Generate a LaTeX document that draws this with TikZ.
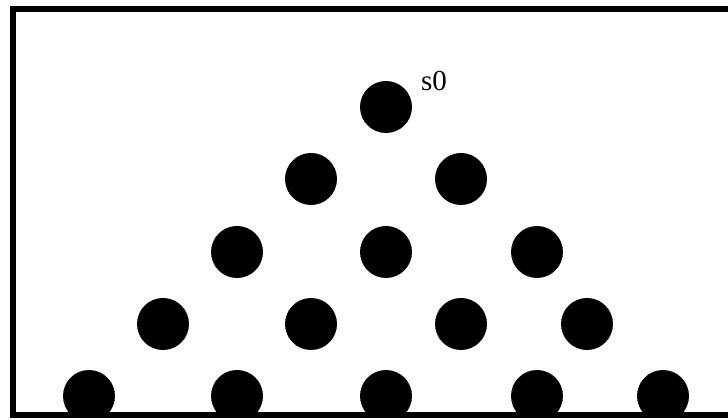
\documentclass[tikz,border=0pt]{standalone}
\usepackage{fontspec}
\setmainfont{Liberation Serif}
\usetikzlibrary{positioning}

\begin{document}
\begin{tikzpicture}[
        x=1pt, y=1pt,
        site/.style={circle, fill=black, inner sep=0pt, minimum size=52pt},
        lbl/.style={font=\fontsize{29}{31}\selectfont, inner sep=0pt},
        frame/.style={draw, line width=6pt}
    ]
        \useasboundingbox (0,0) rectangle (728,420);

        \begin{scope}
        \clip (0,2) rectangle (728,420);
        % top
        \node[site] (s0) at (386,313) {};
        \node[lbl, anchor=base west] (s0lbl) at (421,329) {s0};

        % second row
        \node[site] (r1a) at (311,241) {};
        \node[site] (r1b) at (461,241) {};

        % third row
        \node[site] (r2a) at (237,168) {};
        \node[site] (r2b) at (386,168) {};
        \node[site] (r2c) at (537,168) {};

        % fourth row
        \node[site] (r3a) at (163,96) {};
        \node[site] (r3b) at (311,96) {};
        \node[site] (r3c) at (461,96) {};
        \node[site] (r3d) at (587,96) {};

        % bottom row
        \node[site] (r4a) at (89,24) {};
        \node[site] (r4b) at (237,24) {};
        \node[site] (r4c) at (386,24) {};
        \node[site] (r4d) at (537,24) {};
        \node[site] (r4e) at (663,24) {};
        \end{scope}

        % frame (right side runs off the picture)
        \draw[frame] (760,410.5) -- (12.5,410.5) -- (12.5,4.5) -- (760,4.5);
    \end{tikzpicture}
\end{document}
